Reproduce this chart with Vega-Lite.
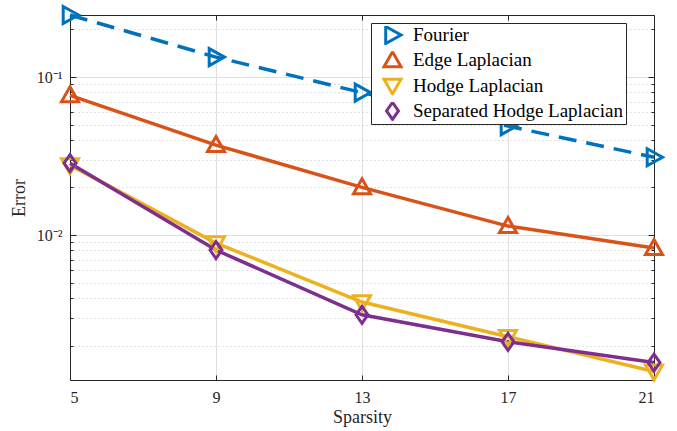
{
  "$schema": "https://vega.github.io/schema/vega-lite/v6.json",
  "width": 584,
  "height": 365,
  "autosize": {"type": "none"},
  "padding": {"left": 70, "top": 15, "right": 23, "bottom": 51},
  "background": "white",
  "data": {
    "values": [
      {"x": 5, "s": "Fourier", "e": 0.247},
      {"x": 9, "s": "Fourier", "e": 0.1337},
      {"x": 13, "s": "Fourier", "e": 0.0797},
      {"x": 17, "s": "Fourier", "e": 0.0489},
      {"x": 21, "s": "Fourier", "e": 0.0311},
      {"x": 5, "s": "Edge Laplacian", "e": 0.0766},
      {"x": 9, "s": "Edge Laplacian", "e": 0.0371},
      {"x": 13, "s": "Edge Laplacian", "e": 0.02004},
      {"x": 17, "s": "Edge Laplacian", "e": 0.0114},
      {"x": 21, "s": "Edge Laplacian", "e": 0.00828},
      {"x": 5, "s": "Hodge Laplacian", "e": 0.0277},
      {"x": 9, "s": "Hodge Laplacian", "e": 0.0089},
      {"x": 13, "s": "Hodge Laplacian", "e": 0.00377},
      {"x": 17, "s": "Hodge Laplacian", "e": 0.00227},
      {"x": 21, "s": "Hodge Laplacian", "e": 0.00137},
      {"x": 5, "s": "Separated Hodge Laplacian", "e": 0.0285},
      {"x": 9, "s": "Separated Hodge Laplacian", "e": 0.00804},
      {"x": 13, "s": "Separated Hodge Laplacian", "e": 0.00313},
      {"x": 17, "s": "Separated Hodge Laplacian", "e": 0.00211},
      {"x": 21, "s": "Separated Hodge Laplacian", "e": 0.00156}
    ]
  },
  "config": {
    "view": {"stroke": null},
    "axis": {
      "domainColor": "#262626",
      "domainWidth": 1,
      "tickColor": "#262626",
      "tickWidth": 1,
      "labelColor": "#262626",
      "titleColor": "#262626",
      "labelFont": "Liberation Serif",
      "titleFont": "Liberation Serif",
      "labelFontSize": 16,
      "titleFontSize": 18,
      "titleFontWeight": "normal"
    },
    "legend": {
      "labelFont": "Liberation Serif",
      "labelFontSize": 19,
      "labelColor": "#000000",
      "labelLimit": 0,
      "symbolSize": 289,
      "symbolStrokeWidth": 3,
      "symbolDash": [],
      "clipHeight": 18,
      "padding": 3,
      "symbolOffset": 8.5,
      "labelOffset": 10.5,
      "rowPadding": 6.3,
      "strokeColor": "#262626",
      "fillColor": "white",
      "cornerRadius": 0
    }
  },
  "layer": [
    {
      "transform": [{"filter": "datum.s === 'Fourier'"}],
      "mark": {"type": "line", "strokeWidth": 3.5, "strokeDash": [18, 10]},
      "encoding": {
        "x": {
          "field": "x", "type": "quantitative",
          "scale": {"domain": [5, 21], "nice": false, "zero": false},
          "axis": {
            "orient": "bottom", "values": [5, 9, 13, 17, 21], "title": "Sparsity",
            "grid": true, "gridColor": "#dfdfdf", "tickSize": -5, "labelPadding": 14, "titlePadding": 3
          }
        },
        "y": {
          "field": "e", "type": "quantitative",
          "scale": {"type": "log", "domain": [0.00121, 0.247], "nice": false},
          "axis": {
            "orient": "left",
            "values": [0.002, 0.003, 0.004, 0.005, 0.006, 0.007, 0.008, 0.009, 0.01, 0.02, 0.03, 0.04, 0.05, 0.06, 0.07, 0.08, 0.09, 0.1, 0.2],
            "title": "Error",
            "grid": true,
            "gridColor": {"condition": {"test": "abs(datum.value-0.1)<1e-9 || abs(datum.value-0.01)<1e-10", "value": "#dfdfdf"}, "value": "#c4c4c4"},
            "gridDash": {"condition": {"test": "abs(datum.value-0.1)<1e-9 || abs(datum.value-0.01)<1e-10", "value": []}, "value": [1, 3]},
            "tickSize": {"condition": {"test": "abs(datum.value-0.1)<1e-9 || abs(datum.value-0.01)<1e-10", "value": -6}, "value": -3},
            "labelExpr": "abs(datum.value-0.1)<1e-9 ? '10⁻¹' : abs(datum.value-0.01)<1e-10 ? '10⁻²' : ''",
            "labelPadding": 14,
            "titlePadding": 8
          }
        },
        "color": {
          "field": "s", "type": "nominal",
          "scale": {"domain": ["Fourier", "Edge Laplacian", "Hodge Laplacian", "Separated Hodge Laplacian"], "range": ["#0072BD", "#D95319", "#EDB120", "#7E2F8E"]},
          "legend": {"title": null, "orient": "none", "legendX": 301, "legendY": 8}
        },
        "order": {"field": "x", "type": "quantitative"}
      }
    },
    {
      "transform": [{"filter": "datum.s !== 'Fourier'"}],
      "mark": {"type": "line", "strokeWidth": 3.5},
      "encoding": {
        "x": {"field": "x", "type": "quantitative", "axis": null},
        "y": {"field": "e", "type": "quantitative", "axis": null},
        "color": {
          "field": "s", "type": "nominal",
          "legend": {"title": null, "orient": "none", "legendX": 301, "legendY": 8}
        },
        "order": {"field": "x", "type": "quantitative"}
      }
    },
    {
      "mark": {"type": "point", "filled": false, "strokeWidth": 3, "size": 289, "opacity": 1},
      "encoding": {
        "x": {
          "field": "x", "type": "quantitative",
          "axis": {"orient": "top", "values": [5, 9, 13, 17, 21], "title": null, "labels": false, "grid": false, "tickSize": -5}
        },
        "y": {
          "field": "e", "type": "quantitative",
          "axis": {
            "orient": "right",
            "values": [0.002, 0.003, 0.004, 0.005, 0.006, 0.007, 0.008, 0.009, 0.01, 0.02, 0.03, 0.04, 0.05, 0.06, 0.07, 0.08, 0.09, 0.1, 0.2],
            "title": null, "labels": false, "grid": false,
            "tickSize": {"condition": {"test": "abs(datum.value-0.1)<1e-9 || abs(datum.value-0.01)<1e-10", "value": -6}, "value": -3}
          }
        },
        "color": {"field": "s", "type": "nominal", "legend": null},
        "shape": {
          "field": "s", "type": "nominal",
          "scale": {"domain": ["Fourier", "Edge Laplacian", "Hodge Laplacian", "Separated Hodge Laplacian"], "range": ["M-0.8,-1L1,0L-0.8,1Z", "M0,-1L1,0.75L-1,0.75Z", "M0,1L1,-0.75L-1,-0.75Z", "M0,-1L0.7,0L0,1L-0.7,0Z"]},
          "legend": null
        }
      }
    }
  ],
  "resolve": {"axis": {"x": "independent", "y": "independent"}}
}
